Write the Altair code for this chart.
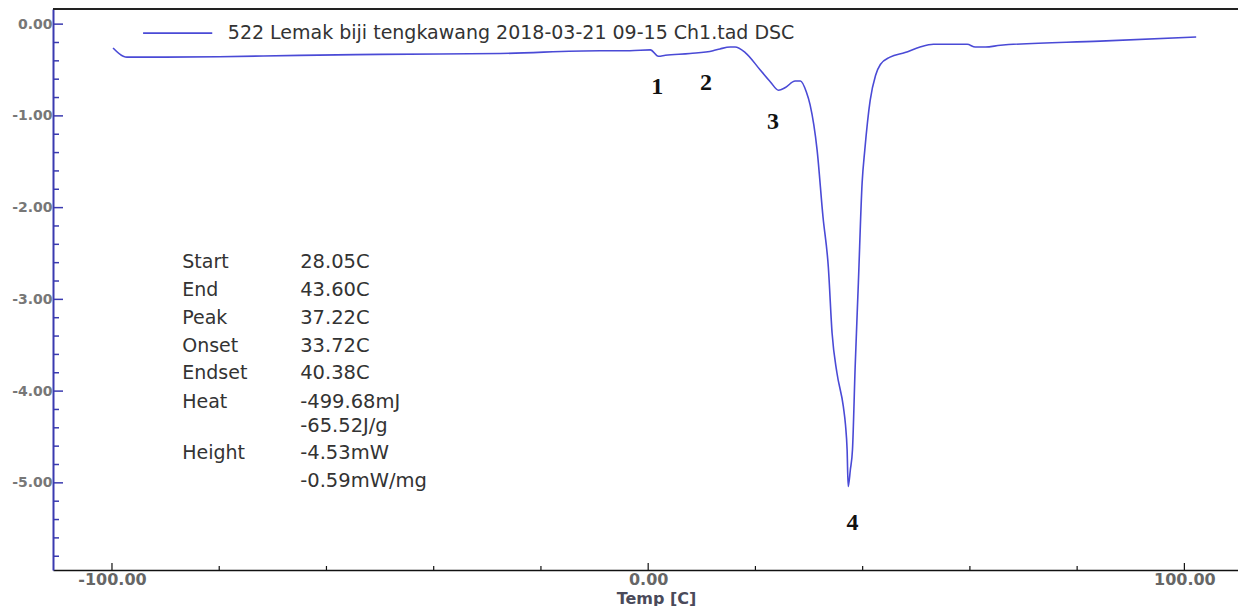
import altair as alt
import pandas as pd

# ---- curve data ----
temp = [-99.8, -97.9, -97.2, -90.0, -80.0, -65.0, -50.0, -27.6, -9.0, -3.4, 0.4, 1.9, 3.2, 7.8,
        12.1, 13.4, 15.3, 16.2, 18.1, 20.9, 22.8, 24.3, 25.6, 27.4, 28.4, 29.5, 30.2, 31.5,
        32.6, 33.6, 34.3, 35.2, 36.4, 36.8, 37.1, 37.3, 37.7, 38.1, 38.6, 39.2, 39.9, 40.4,
        41.4, 42.4, 43.3, 45.1, 47.9, 50.7, 53.2, 55.4, 59.5, 61.0, 62.9, 65.7, 84.3, 102.2]
heat_flow = [-0.26, -0.35, -0.36, -0.36, -0.355, -0.34, -0.33, -0.32, -0.29, -0.29, -0.28, -0.35,
             -0.34, -0.32, -0.29, -0.27, -0.25, -0.25, -0.31, -0.50, -0.63, -0.72, -0.69, -0.62,
             -0.62, -0.74, -0.88, -1.37, -2.10, -2.65, -3.37, -3.80, -4.17, -4.37, -4.64, -5.04,
             -4.86, -4.64, -3.74, -2.82, -1.73, -1.37, -0.83, -0.56, -0.44, -0.36, -0.31, -0.25,
             -0.22, -0.22, -0.22, -0.25, -0.25, -0.23, -0.185, -0.14]

# ---- axis ticks ----
x_major = [-100, 0, 100]
x_minor = [-80, -60, -40, -20, 20, 40, 60, 80]
y_major = [0, -1, -2, -3, -4, -5]
y_minor = [-0.2, -0.4, -0.6, -0.8, -1.2, -1.4, -1.6, -1.8, -2.2, -2.4, -2.6, -2.8,
           -3.2, -3.4, -3.6, -3.8, -4.2, -4.4, -4.6, -4.8, -5.2, -5.4, -5.6, -5.8]

# ---- annotation text ----
legend_label = ["522 Lemak biji tengkawang 2018-03-21 09-15 Ch1.tad  DSC"]
stat_names = ["Start", "End", "Peak", "Onset", "Endset", "Heat", "", "Height", ""]
stat_values = ["28.05C", "43.60C", "37.22C", "33.72C", "40.38C", "-499.68mJ", "-65.52J/g",
               "-4.53mW", "-0.59mW/mg"]
marker_labels = ["1", "2", "3", "4"]

# annotation placement (data coordinates)
legend_line_x = [-94.2, -81.3]
legend_y = -0.098
legend_text_x = -78.4
stat_rows_y = [-2.593, -2.898, -3.203, -3.508, -3.802, -4.118, -4.38, -4.673, -4.978]
stat_name_x = -86.9
stat_value_x = -64.9
marker_x = [1.7, 10.8, 23.3, 38.1]
marker_y = [-0.68, -0.645, -1.07, -5.436]

W, H = 1185, 561
LINE = "#4a4ad6"
XDOM = [-111, 110]
YDOM = [-5.95, 0.165]

xs = alt.Scale(domain=XDOM, nice=False, zero=False)
ys = alt.Scale(domain=YDOM, nice=False, zero=False)

curve_df = pd.DataFrame({"t": temp, "v": heat_flow})

curve = alt.Chart(curve_df).mark_line(color=LINE, strokeWidth=1.6, interpolate="monotone").encode(
    x=alt.X("t:Q", scale=xs, axis=alt.Axis(
        values=x_major, format=".2f", ticks=False, grid=False,
        domainColor="#111111", domainWidth=1.5,
        labelFont="DejaVu Sans", labelFontWeight="bold", labelFontSize=16, labelColor="#666666",
        labelPadding=1,
        title="Temp  [C]", titleFont="DejaVu Sans", titleFontWeight="bold", titleFontSize=16,
        titleColor="#4a4a5a", titleBaseline="alphabetic", titleY=33, titleX=603, titleAlign="center",
        labelExpr="replace(format(datum.value, '.2f'), '\u2212', '-')")),
    y=alt.Y("v:Q", scale=ys, axis=alt.Axis(
        values=y_major, format=".2f", ticks=False, grid=False,
        domainColor="#3a3ab0", domainWidth=2,
        labelFont="DejaVu Sans", labelFontWeight="bold", labelFontSize=14, labelColor="#777777",
        labelPadding=1, title=None,
        labelExpr="replace(format(datum.value, '.2f'), '\u2212', '-')")),
)

# inward ticks
ymaj = alt.Chart(pd.DataFrame({"v": y_major})).mark_rule(color="#3a3ab0", strokeWidth=1.5).encode(
    y=alt.Y("v:Q", scale=ys), x=alt.value(0), x2=alt.value(10))
ymin = alt.Chart(pd.DataFrame({"v": y_minor})).mark_rule(color="#3a3ab0", strokeWidth=1.5).encode(
    y=alt.Y("v:Q", scale=ys), x=alt.value(0), x2=alt.value(6))
xmaj = alt.Chart(pd.DataFrame({"t": x_major})).mark_rule(color="#111111", strokeWidth=1.2).encode(
    x=alt.X("t:Q", scale=xs), y=alt.value(H), y2=alt.value(H - 7))
xmin = alt.Chart(pd.DataFrame({"t": x_minor})).mark_rule(color="#111111", strokeWidth=1.2).encode(
    x=alt.X("t:Q", scale=xs), y=alt.value(H), y2=alt.value(H - 4))

top_border = alt.Chart(pd.DataFrame({"a": [0]})).mark_rule(color="#222222", strokeWidth=2).encode(
    x=alt.value(0), x2=alt.value(W), y=alt.value(0))

# legend
leg_line = alt.Chart(pd.DataFrame({"x1": [legend_line_x[0]], "x2": [legend_line_x[1]], "y": [legend_y]})).mark_rule(
    color=LINE, strokeWidth=1.6).encode(x=alt.X("x1:Q", scale=xs), x2="x2:Q", y=alt.Y("y:Q", scale=ys))
leg_text = alt.Chart(pd.DataFrame({"x": [legend_text_x], "y": [legend_y], "s": legend_label})).mark_text(
    font="DejaVu Sans", fontSize=19, color="#333333", align="left", baseline="middle").encode(
    x=alt.X("x:Q", scale=xs), y=alt.Y("y:Q", scale=ys), text="s:N")

# stats block
names_df = pd.DataFrame({"x": [stat_name_x] * len(stat_names), "y": stat_rows_y, "s": stat_names})
vals_df = pd.DataFrame({"x": [stat_value_x] * len(stat_values), "y": stat_rows_y, "s": stat_values})
names_t = alt.Chart(names_df).mark_text(font="DejaVu Sans", fontSize=19, color="#333333",
                                        align="left", baseline="middle").encode(
    x=alt.X("x:Q", scale=xs), y=alt.Y("y:Q", scale=ys), text="s:N")
vals_t = alt.Chart(vals_df).mark_text(font="DejaVu Sans", fontSize=19.5, color="#333333",
                                      align="left", baseline="middle").encode(
    x=alt.X("x:Q", scale=xs), y=alt.Y("y:Q", scale=ys), text="s:N")

markers = alt.Chart(pd.DataFrame({"x": marker_x, "y": marker_y, "s": marker_labels})).mark_text(
    font="Liberation Serif", fontWeight="bold", fontSize=24, color="#111111",
    align="center", baseline="middle").encode(
    x=alt.X("x:Q", scale=xs), y=alt.Y("y:Q", scale=ys), text="s:N")

chart = alt.layer(curve, ymaj, ymin, xmaj, xmin, top_border, leg_line, leg_text,
                  names_t, vals_t, markers).properties(
    width=W, height=H,
    autosize=alt.AutoSizeParams(type="none"),
    padding={"left": 45, "top": 1, "right": 0, "bottom": 36},
    background="white",
).configure_view(stroke=None)

chart.save("out.html", embed_options={"renderer": "svg", "actions": False})
